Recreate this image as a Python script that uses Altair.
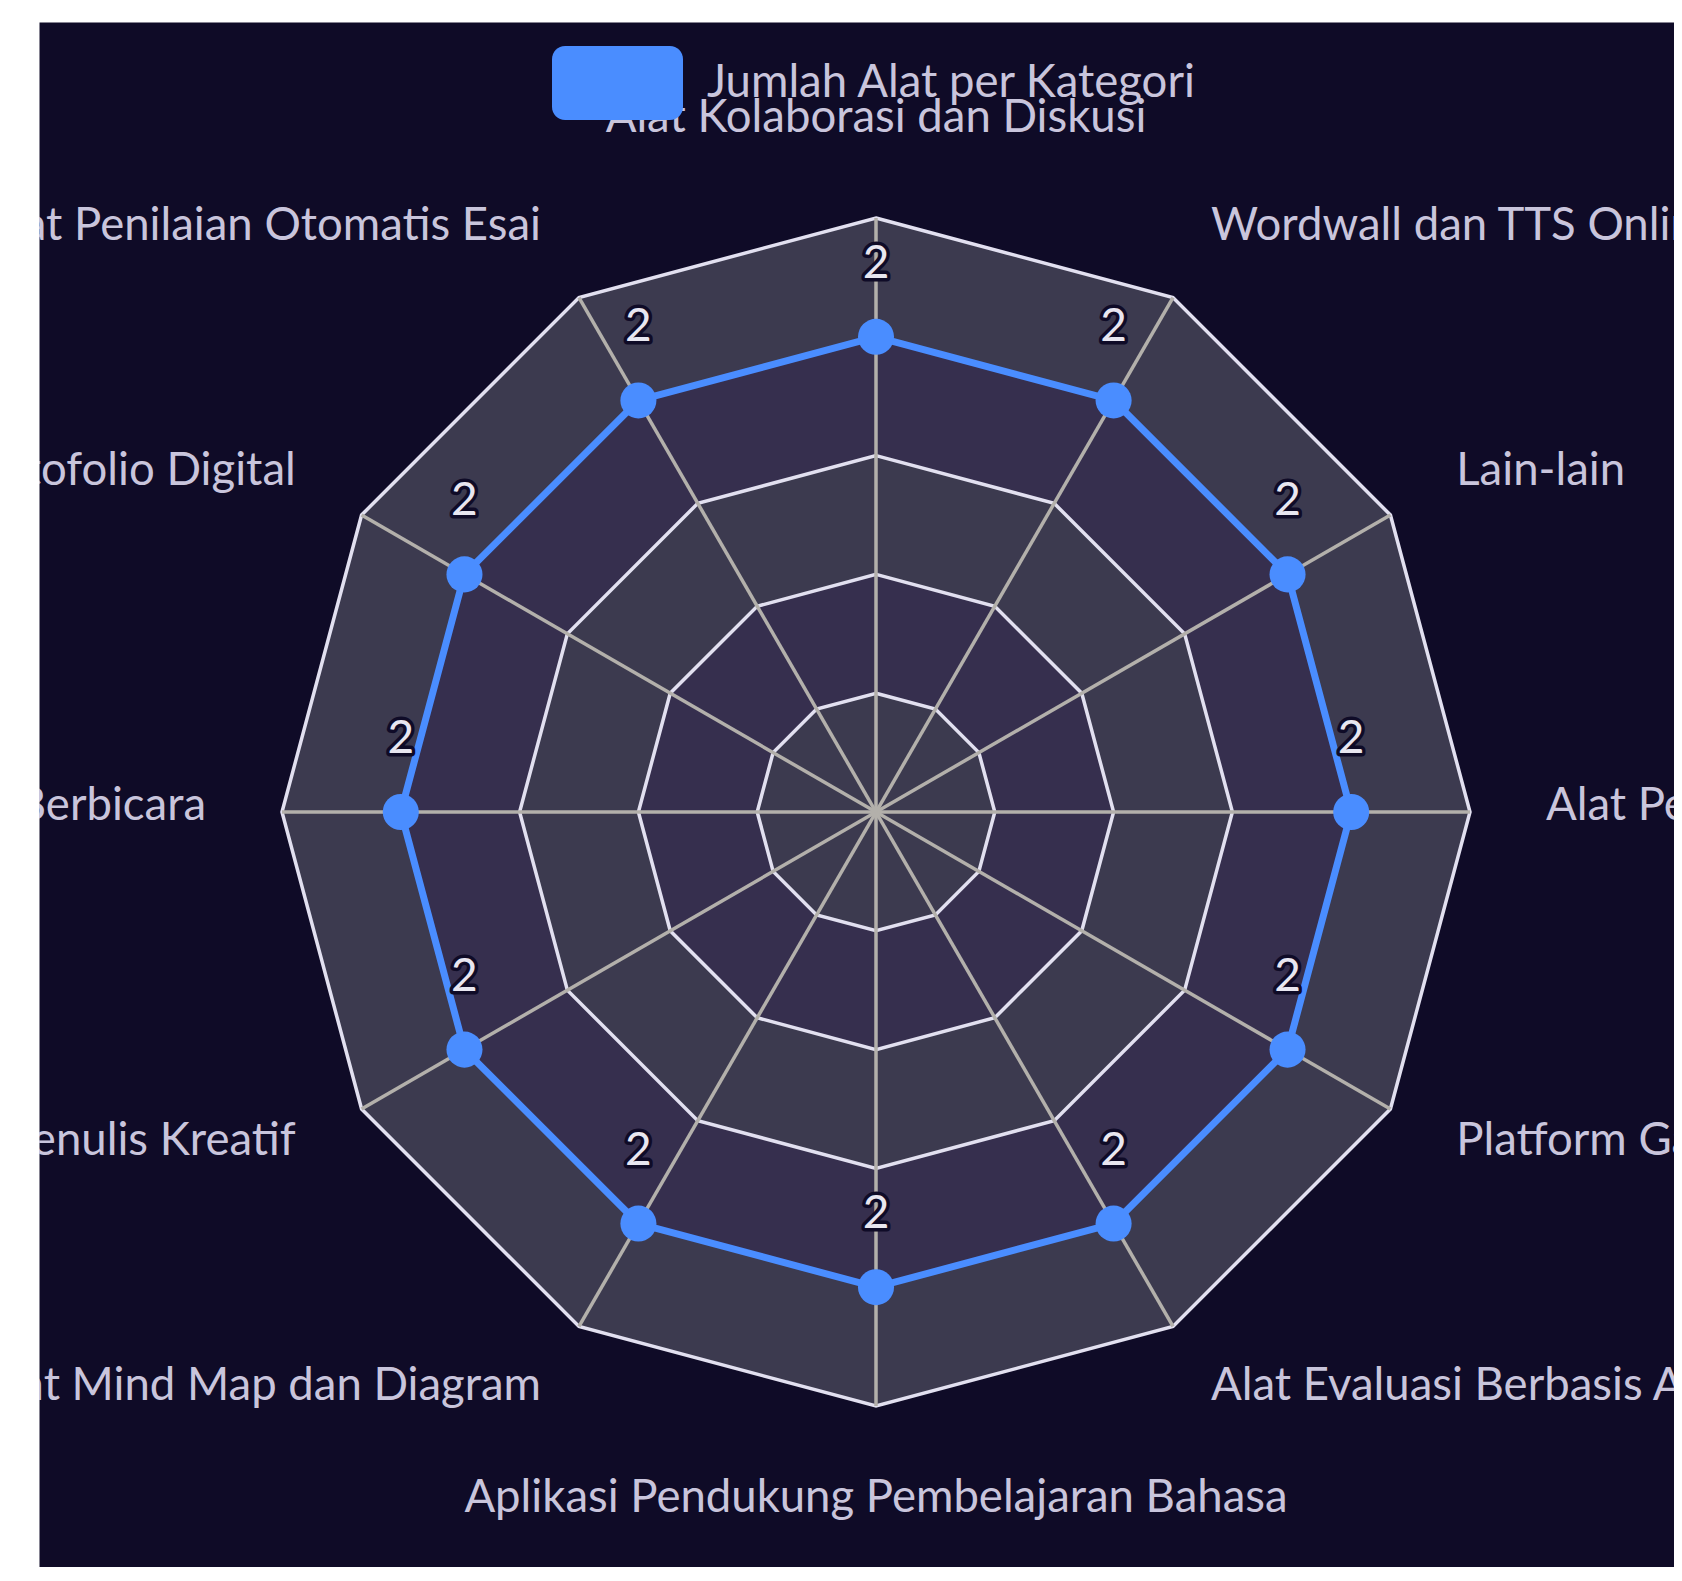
import altair as alt
import pandas as pd

# ---------------- data ----------------
categories = [
    "Alat Kolaborasi dan Diskusi",
    "Wordwall dan TTS Online",
    "Lain-lain",
    "Alat Pembuat Kuis",
    "Platform Gamifikasi",
    "Alat Evaluasi Berbasis AI",
    "Aplikasi Pendukung Pembelajaran Bahasa",
    "Alat Mind Map dan Diagram",
    "Alat Bantu Menulis Kreatif",
    "Alat Latihan Berbicara",
    "Portofolio Digital",
    "Alat Penilaian Otomatis Esai",
]
values = [2, 2, 2, 2, 2, 2, 2, 2, 2, 2, 2, 2]
series_name = "Jumlah Alat per Kategori"
ring_levels = [0.5, 1.0, 1.5, 2.0, 2.5]
max_value = 2.5

# ---------------- style / layout ----------------
BG = "#0f0b27"
BAND_A = "#3c3a4f"
BAND_B = "#362f4e"
RING = "#e2e0f0"
SPOKE = "#b3b0ab"
BLUE = "#4a8dff"
TXT = "#c9c5dc"
FONT = "Lato"
FS = 45.5

W, H = 1635, 1545
CX, CY = 837, 790
R_PX = 594
UNIT = R_PX / max_value
n = len(categories)

xs = alt.Scale(domain=[-CX / UNIT, (W - CX) / UNIT], nice=False, zero=False)
ys = alt.Scale(domain=[-(H - CY) / UNIT, CY / UNIT], nice=False, zero=False)

cat_df = pd.DataFrame({
    "idx": list(range(n)),
    "kategori": categories,
    "nilai": values,
    "series": [series_name] * n,
})
ring_df = pd.DataFrame(
    [{"level": lv, "idx": i} for lv in ring_levels for i in range(n)]
)

ANG = f"datum.idx * 2 * PI / {n}"


def enc(xf, yf):
    return dict(
        x=alt.X(f"{xf}:Q", scale=xs, axis=None),
        y=alt.Y(f"{yf}:Q", scale=ys, axis=None),
    )


layers = []

# split areas + split lines (outer first)
for k, lv in reversed(list(enumerate(ring_levels))):
    col = BAND_A if k % 2 == 0 else BAND_B
    layers.append(
        alt.Chart(ring_df)
        .transform_filter(f"datum.level == {lv}")
        .transform_calculate(
            ang=ANG,
            px="datum.level * sin(datum.ang)",
            py="datum.level * cos(datum.ang)",
        )
        .mark_line(interpolate="linear-closed", fill=col, stroke=RING, strokeWidth=3.5)
        .encode(**enc("px", "py"), order=alt.Order("idx:Q"))
    )

# spokes
layers.append(
    alt.Chart(cat_df)
    .transform_calculate(
        ang=ANG,
        zero="0",
        ex=f"{max_value} * sin(datum.ang)",
        ey=f"{max_value} * cos(datum.ang)",
    )
    .mark_rule(color=SPOKE, strokeWidth=3.5)
    .encode(
        x=alt.X("zero:Q", scale=xs, axis=None),
        y=alt.Y("zero:Q", scale=ys, axis=None),
        x2="ex:Q",
        y2="ey:Q",
    )
)

pts = alt.Chart(cat_df).transform_calculate(
    ang=ANG,
    px="datum.nilai * sin(datum.ang)",
    py="datum.nilai * cos(datum.ang)",
)

# data polygon
layers.append(
    pts.mark_line(interpolate="linear-closed", color=BLUE, strokeWidth=7)
    .encode(**enc("px", "py"), order=alt.Order("idx:Q"))
)

legend_path = (
    "M-0.8,-0.565 L0.8,-0.565 A0.2,0.2 0 0 1 1,-0.365 L1,0.365 "
    "A0.2,0.2 0 0 1 0.8,0.565 L-0.8,0.565 A0.2,0.2 0 0 1 -1,0.365 "
    "L-1,-0.365 A0.2,0.2 0 0 1 -0.8,-0.565 Z"
)

# points + legend
layers.append(
    pts.mark_circle(size=1300, opacity=1)
    .encode(
        **enc("px", "py"),
        color=alt.Color(
            "series:N",
            scale=alt.Scale(domain=[series_name], range=[BLUE]),
            legend=alt.Legend(
                title=None,
                orient="none",
                legendX=513,
                legendY=-4.5,
                symbolType=legend_path,
                symbolSize=17161,
                symbolStrokeWidth=0,
                symbolOpacity=1,
                labelFont=FONT,
                labelFontSize=FS,
                labelColor=TXT,
                labelOffset=24,
                labelLimit=0,
                padding=0,
            ),
        ),
    )
)

# value labels (outline, then fill)
layers.append(
    pts.mark_text(
        dy=-73, font=FONT, fontSize=46, fill=BG, stroke=BG, strokeWidth=7,
        strokeJoin="round", baseline="middle", align="center",
    ).encode(**enc("px", "py"), text=alt.Text("nilai:Q"))
)
layers.append(
    pts.mark_text(
        dy=-73, font=FONT, fontSize=46, fill="#e8e6f0",
        baseline="middle", align="center",
    ).encode(**enc("px", "py"), text=alt.Text("nilai:Q"))
)


# category labels
def cat_layer(filt, r_px, align, baseline, dy):
    r = r_px / UNIT
    return (
        alt.Chart(cat_df)
        .transform_filter(filt)
        .transform_calculate(
            ang=ANG,
            lx=f"{r} * sin(datum.ang)",
            ly=f"{r} * cos(datum.ang)",
        )
        .mark_text(
            font=FONT, fontSize=FS, color=TXT, align=align,
            baseline=baseline, dy=dy, clip=True,
        )
        .encode(**enc("lx", "ly"), text="kategori:N")
    )


half = n // 2
layers.append(cat_layer("datum.idx == 0", 680, "center", "alphabetic", 0))
layers.append(cat_layer(f"datum.idx == {half}", 700, "center", "alphabetic", 0))
layers.append(cat_layer(f"datum.idx > 0 && datum.idx < {half}", 670, "left", "middle", -6))
layers.append(cat_layer(f"datum.idx > {half}", 670, "right", "middle", -6))

chart = (
    alt.layer(*layers)
    .properties(
        width=W,
        height=H,
        padding={"left": 31, "top": 14, "right": 0, "bottom": 0},
        autosize=alt.AutoSizeParams(type="none"),
        background="white",
    )
    .configure_view(fill=BG, stroke="transparent")
)

chart.save("out.html", embed_options={"renderer": "svg", "actions": False})
